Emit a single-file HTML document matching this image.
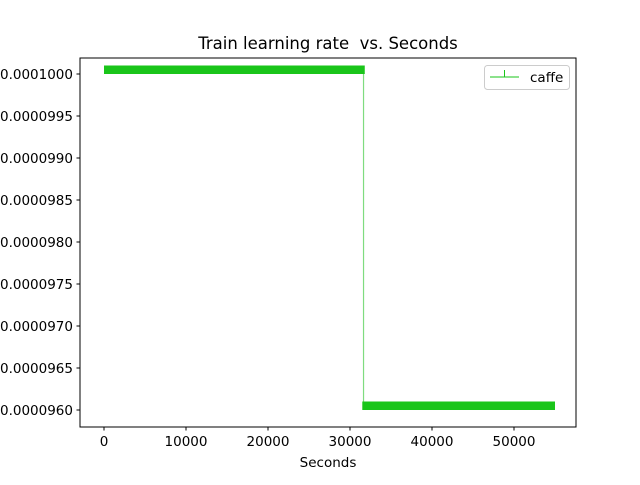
<!DOCTYPE html>
<html><head><meta charset="utf-8"><style>
body{margin:0;background:#fff}
svg text{font-family:"DejaVu Sans","Liberation Sans",sans-serif;fill:#000}
</style></head><body>
<svg id="chart" width="640" height="480">
<rect width="640" height="480" fill="#fff"/>
<text x="328" y="49" font-size="16.5" text-anchor="middle">Train learning rate&#160; vs. Seconds</text>
<g id="marks"></g>
<rect x="80" y="58" width="496" height="369" fill="none" stroke="#000" stroke-width="1"/>
<g id="axes"></g>
<text x="328" y="467" font-size="13.5" text-anchor="middle">Seconds</text>
<g>
<rect x="484.5" y="65.5" width="85" height="24" rx="3" fill="#fff" stroke="#ccc"/>
<line x1="490" y1="77" x2="519" y2="77" stroke="#1ac51a" stroke-width="1"/>
<line x1="504.5" y1="70" x2="504.5" y2="77" stroke="#1ac51a" stroke-width="1"/>
<text x="530" y="82" font-size="13.5">caffe</text>
</g>
</svg>
<script>
const xTicks=[0,10000,20000,30000,40000,50000];
const yTicks=[0.0000960,0.0000965,0.0000970,0.0000975,0.0000980,0.0000985,0.0000990,0.0000995,0.0001000];
const yTickLabels=["0.0000960","0.0000965","0.0000970","0.0000975","0.0000980","0.0000985","0.0000990","0.0000995","0.0001000"];
const segStart=[0,31500];
const segEnd=[31800,55000];
const segRate=[0.00010005,0.00009605];
const NS="http://www.w3.org/2000/svg";
function X(v){return 104+v*0.0082;}
function Y(v){return 74+(0.0001-v)*84e6;}
function mk(tag,attrs,parent){const e=document.createElementNS(NS,tag);for(const k in attrs)e.setAttribute(k,attrs[k]);parent.appendChild(e);return e;}
const axes=document.getElementById('axes'),marks=document.getElementById('marks');
xTicks.forEach(t=>{
 const l=mk('line',{x1:X(t),x2:X(t),y1:427,y2:430.5,stroke:'#000'},axes);
 
 
 const tx=mk('text',{x:X(t),y:446,'font-size':13.5,'text-anchor':'middle'},axes);
 tx.textContent=t;
 
 
});
yTicks.forEach((t,i)=>{
 const l=mk('line',{x1:76.5,x2:80,y1:Y(t),y2:Y(t),stroke:'#000'},axes);
 
 
 const tx=mk('text',{x:73,y:Y(t)+5,'font-size':13.5,'text-anchor':'end'},axes);
 tx.textContent=yTickLabels[i];
 
 
});
const midX=(segEnd[0]+segStart[1])/2;
const c=mk('path',{d:`M${X(midX)},${Y(segRate[0])}L${X(midX)},${Y(segRate[1])}`,stroke:'#7fdc7f','stroke-width':1.2,fill:'none'},marks);


segStart.forEach((s,i)=>{
 const b=mk('line',{x1:X(s),x2:X(segEnd[i]),y1:Y(segRate[i]),y2:Y(segRate[i]),stroke:'#1ac51a','stroke-width':8.5},marks);
 
 
});
</script>
</body></html>
